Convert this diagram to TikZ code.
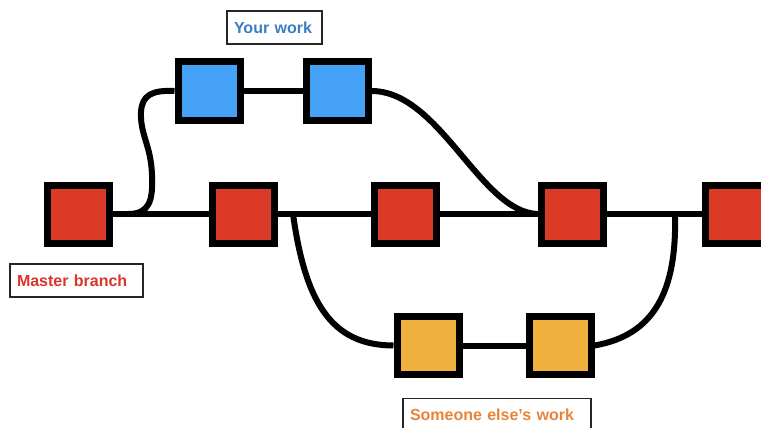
\documentclass[tikz,border=0pt]{standalone}
\usepackage{fontspec}
\setmainfont{Liberation Sans}
\usetikzlibrary{backgrounds}
\definecolor{commitred}{HTML}{DA3A26}
\definecolor{commitblue}{HTML}{45A1F6}
\definecolor{commitorange}{HTML}{F1B13F}
\definecolor{labelred}{HTML}{D8352B}
\definecolor{labelblue}{HTML}{3B7DC2}
\definecolor{labelorange}{HTML}{E8843A}
\begin{document}
\begin{tikzpicture}[x=1pt,y=-1pt,
  commit/.style={draw=black, line width=7pt, minimum width=62pt, minimum height=58pt, inner sep=0pt},
  link/.style={line width=6pt, draw=black},
  tag/.style={draw=black!85, line width=1.8pt, fill=white, inner xsep=7pt, inner ysep=0pt,
    align=left, minimum height=33pt, font=\bfseries\fontsize{16}{18}\selectfont}]
\useasboundingbox (0,0) rectangle (761,428);
\clip (0,0) rectangle (761,428);

% master branch commits
\node[commit, fill=commitred] (m1) at (78.5,214) {};
\node[commit, fill=commitred] (m2) at (243.5,214) {};
\node[commit, fill=commitred] (m3) at (405.5,214) {};
\node[commit, fill=commitred] (m4) at (572,214) {};
\node[commit, fill=commitred] (m5) at (736.5,214) {};

% feature branch commits
\node[commit, fill=commitblue] (b1) at (209,91) {};
\node[commit, fill=commitblue] (b2) at (337,91) {};

% other contributor's commits
\node[commit, fill=commitorange] (o1) at (428,345.5) {};
\node[commit, fill=commitorange] (o2) at (560,345.5) {};

% branch labels
\node[tag, text=labelblue, text width=81pt] (lblue) at (274.5,27.5) {Your work};
\node[tag, text=labelred, text width=119pt] (lred) at (76.5,280.5) {Master branch};
\node[tag, text=labelorange, text width=174pt] (lorange) at (497,415) {Someone else’s work};

% fork and merge points on the master line
\coordinate (forkb) at (128,214);
\coordinate (forko) at (293,214);
\coordinate (mergeo) at (675,214);

\begin{scope}[on background layer]
  \draw[link] (m1.center) -- (m5.center);
  \draw[link] (b1.center) -- (b2.center);
  \draw[link] (o1.center) -- (o2.center);
  % branch off for own work
  \draw[link] (forkb) .. controls (150,214) and (153,200) .. (152,175)
    .. controls (151,145) and (140,135) .. (141,112)
    .. controls (142,95) and (152,90) .. (b1.west);
  % merge own work back
  \draw[link] (b2.east) .. controls (440,91) and (480,212) .. (m4.west);
  % branch off for the other work
  \draw[link] (forko) .. controls (305,300) and (330,345.5) .. (o1.west);
  % merge the other work back
  \draw[link] (o2.east) .. controls (655,335) and (677,290) .. (mergeo);
\end{scope}
\end{tikzpicture}
\end{document}
